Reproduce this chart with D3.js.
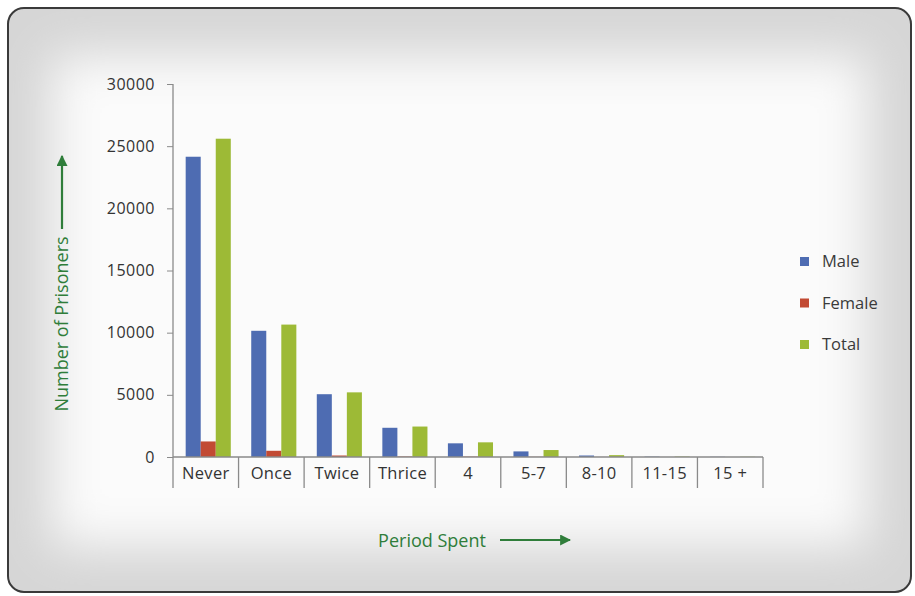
<!DOCTYPE html>
<html>
<head>
<meta charset="utf-8">
<script src="https://cdn.jsdelivr.net/npm/d3@7"></script>
<style>
  body { margin: 0; background: #fff; }
  svg { display: block; }
  .tick text { font-family: "Open Sans", sans-serif; }
</style>
</head>
<body>
<svg id="chart" width="915" height="596"></svg>
<script>
// values
var periods = ["Never", "Once", "Twice", "Thrice", "4", "5-7", "8-10", "11-15", "15 +"];
var male   = [24150, 10150, 5050, 2350, 1100, 450, 120, 30, 15];
var female = [1250, 500, 120, 40, 30, 15, 5, 2, 1];
var total  = [25600, 10650, 5200, 2450, 1180, 560, 150, 35, 18];
var seriesNames = ["Male", "Female", "Total"];
var seriesColors = ["#4e6cb2", "#c24a33", "#9dba36"];
var yTicks = [0, 5000, 10000, 15000, 20000, 25000, 30000];

var width = 915, height = 596;
var svg = d3.select("#chart");

// photo-like frame with soft grey vignette
var defs = svg.append("defs");
defs.append("filter").attr("id", "soft")
	.attr("x", "-20%").attr("y", "-20%").attr("width", "140%").attr("height", "140%")
	.append("feGaussianBlur").attr("stdDeviation", 24);
defs.append("clipPath").attr("id", "frameClip")
	.append("rect").attr("x", 8).attr("y", 8).attr("width", 903).attr("height", 584).attr("rx", 16);

var bg = svg.append("g").attr("clip-path", "url(#frameClip)");
bg.append("rect").attr("x", 8).attr("y", 8).attr("width", 903).attr("height", 584).style("fill", "#d6d6d6");
bg.append("rect").attr("x", 52).attr("y", 56).attr("width", 815).attr("height", 490)
	.style("fill", "#fbfbfb").attr("filter", "url(#soft)");
svg.append("rect").attr("x", 8).attr("y", 8).attr("width", 903).attr("height", 584).attr("rx", 16)
	.style("fill", "none").style("stroke", "#3a3a3a").style("stroke-width", 2);

var x0 = 173, x1 = 763, yBase = 457, yTop = 84;

var x = d3.scaleBand().domain(periods).range([x0, x1]).paddingInner(0).paddingOuter(0);
var xs = d3.scaleBand().domain(seriesNames).range([0, x.bandwidth()])
	.paddingInner(0).paddingOuter(0.68).align(0.62);
var y = d3.scaleLinear().domain([0, 30000]).range([yBase, yTop]);

var data = periods.map(function(p, i){
	return {period: p, values: [male[i], female[i], total[i]]};
});

// bars
var groups = svg.selectAll("g.grp")
	.data(data)
	.enter()
		.append("g")
		.attr("class", "grp")
		.attr("transform", function(d){ return "translate(" + x(d.period) + ",0)"; });

groups.selectAll("rect")
	.data(function(d){ return d.values.map(function(v, j){ return {name: seriesNames[j], v: v, c: seriesColors[j]}; }); })
	.enter()
		.append("rect")
		.attr("x", function(d){ return xs(d.name); })
		.attr("width", xs.bandwidth())
		.attr("y", function(d){ return y(d.v); })
		.attr("height", function(d){ return yBase - y(d.v); })
		.style("fill", function(d){ return d.c; });

// y axis
var yAxis = svg.append("g")
	.attr("transform", "translate(" + x0 + ",0)")
	.call(d3.axisLeft(y).tickValues(yTicks).tickSize(6).tickPadding(12).tickFormat(d3.format("d")));
yAxis.select(".domain").remove();
yAxis.selectAll("line").style("stroke", "#8a8a8a");
yAxis.selectAll("text").style("font-size", "16px").style("fill", "#333").style("letter-spacing", "0.5px");

svg.append("line")
	.attr("x1", x0).attr("x2", x0).attr("y1", yTop).attr("y2", 488)
	.style("stroke", "#8a8a8a").style("stroke-width", 1.3);

// x axis with category separators
var xAxis = svg.append("g")
	.attr("transform", "translate(0," + yBase + ")")
	.call(d3.axisBottom(x).tickSize(0).tickPadding(10));
xAxis.select(".domain").remove();
xAxis.selectAll("text").style("font-size", "16.5px").style("fill", "#333").style("letter-spacing", "0.3px");

svg.append("line")
	.attr("x1", x0).attr("x2", x1).attr("y1", yBase).attr("y2", yBase)
	.style("stroke", "#8a8a8a").style("stroke-width", 1.3);

svg.selectAll("line.sep")
	.data(periods)
	.enter()
		.append("line")
		.attr("class", "sep")
		.attr("x1", function(d){ return x(d) + x.bandwidth(); })
		.attr("x2", function(d){ return x(d) + x.bandwidth(); })
		.attr("y1", yBase)
		.attr("y2", 488)
		.style("stroke", "#8a8a8a").style("stroke-width", 1.3);

// legend
var legend = svg.selectAll("g.leg")
	.data(seriesNames)
	.enter()
		.append("g")
		.attr("class", "leg")
		.attr("transform", function(d, i){ return "translate(800," + (257 + i * 41.5) + ")"; });
legend.append("rect").attr("width", 9).attr("height", 9)
	.style("fill", function(d, i){ return seriesColors[i]; });
legend.append("text")
	.attr("x", 22).attr("y", 10)
	.style("font-family", "'Open Sans', sans-serif").style("font-size", "16.5px").style("fill", "#3a3a3a")
	.text(function(d){ return d; });

// axis titles with arrows
var green = "#2f7d3a";
defs.append("marker").attr("id", "arrow")
	.attr("viewBox", "0 0 10 10").attr("refX", 9).attr("refY", 5)
	.attr("markerWidth", 5).attr("markerHeight", 5).attr("orient", "auto")
	.append("path").attr("d", "M0,0L10,5L0,10Z").style("fill", green);

svg.append("text")
	.attr("transform", "translate(68,324) rotate(-90)")
	.attr("text-anchor", "middle")
	.style("font-family", "'Open Sans', sans-serif").style("font-size", "18px").style("fill", green)
	.text("Number of Prisoners");
svg.append("line")
	.attr("x1", 62).attr("x2", 62).attr("y1", 229).attr("y2", 156)
	.style("stroke", green).style("stroke-width", 2.2).attr("marker-end", "url(#arrow)");

svg.append("text")
	.attr("x", 432).attr("y", 547)
	.attr("text-anchor", "middle")
	.style("font-family", "'Open Sans', sans-serif").style("font-size", "18px").style("fill", green)
	.text("Period Spent");
svg.append("line")
	.attr("x1", 500).attr("x2", 570).attr("y1", 540).attr("y2", 540)
	.style("stroke", green).style("stroke-width", 2.2).attr("marker-end", "url(#arrow)");
</script>
</body>
</html>
